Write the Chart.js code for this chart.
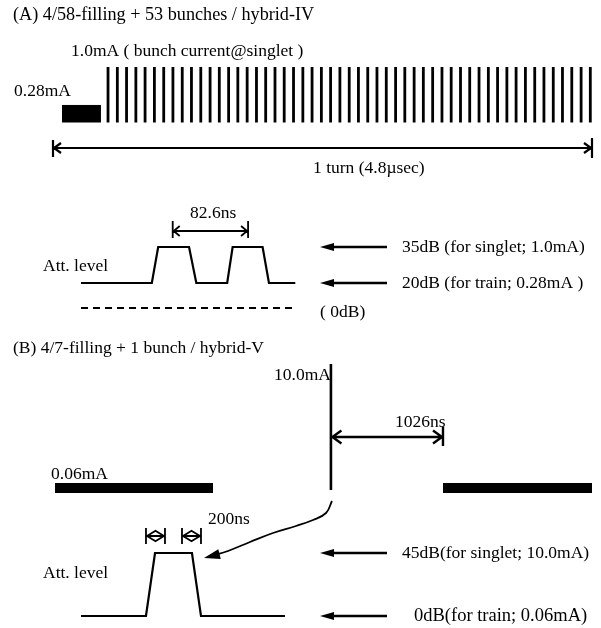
<!DOCTYPE html>
<html>
<head>
<meta charset="utf-8">
<script src="https://cdn.jsdelivr.net/npm/chart.js@4.4.1/dist/chart.umd.min.js"></script>
<style>
  html, body { margin: 0; padding: 0; background: #fff; }
  canvas { display: block; }
</style>
</head>
<body>
<canvas id="diagram" width="601" height="628"></canvas>
<script>
// ---- data: times in ns, currents in mA, attenuation in dB ----

// (A) 4/58-filling + 53 bunches / hybrid-IV
const turnNs = 4800;
const trainA = [80, 427];
const trainCurrentA = 0.28;
const singletCurrentA = 1.0;
const singletTimesA = [
  490, 573, 655, 738, 820, 903, 986, 1068, 1151, 1233,
  1316, 1399, 1481, 1564, 1646, 1729, 1812, 1894, 1977, 2059,
  2142, 2225, 2307, 2390, 2472, 2555, 2638, 2720, 2803, 2885,
  2968, 3051, 3133, 3216, 3298, 3381, 3464, 3546, 3629, 3711,
  3794, 3877, 3959, 4042, 4124, 4207, 4290, 4372, 4455, 4537,
  4620, 4703, 4785
];
const attTimesA = [0, 78, 85, 119, 127, 161, 167, 200, 207, 236];
const attLevelsA = [20, 20, 35, 35, 20, 20, 35, 35, 20, 20];
const attMarksA = [35, 20];
const spacingMarkA = [101, 184];   // 82.6 ns between singlets

// (B) 4/7-filling + 1 bunch / hybrid-V
const trainsB = [[18, 1425], [3473, 4800]];
const trainCurrentB = 0.06;
const singletTimeB = 2475;
const singletCurrentB = 10.0;
const attTimesB = [0, 684, 779, 1168, 1263, 2147];
const attLevelsB = [0, 0, 45, 45, 0, 0];
const attMarksB = [45, 0];
const edgeMarksB = [[684, 884], [1063, 1263]];   // 200 ns edges

// ---- layout (diagram units == canvas pixels) ----
const turnX = t => 53 + t * 539 / turnNs;
const curYA = mA => 122.5 - mA * 55.5;
const curYB = mA => 490 - mA * 12.6;
const attXA = t => 81 + t * 0.908;
const attYA = db => 283 - (db - 20) * 2.4;
const attXB = t => 81 + t * 0.095;
const attYB = db => 616 - db * 1.4;
const turnArrowY = 148;
const spacingArrowY = 231;
const refLineYA = 308;
const gapArrowY = 437;
const edgeArrowY = 536;
const trainBarB = [483, 493];
const markShaft = [332, 387];
const curvePts = [
  { x: 332, y: 501 }, { x: 326, y: 513 }, { x: 313, y: 520 }, { x: 296, y: 526 },
  { x: 273, y: 533 }, { x: 250, y: 542 }, { x: 228, y: 551 }, { x: 212, y: 556 }
];

const textLines = [
  { t: '(A) 4/58-filling + 53 bunches / hybrid-IV', x: 13, y: 15, size: 18.2 },
  { t: '1.0mA ( bunch current@singlet )', x: 71, y: 51 },
  { t: '0.28mA', x: 14, y: 91 },
  { t: '1 turn (4.8\u00b5sec)', x: 313, y: 168 },
  { t: '82.6ns', x: 190, y: 213 },
  { t: 'Att. level', x: 43, y: 266 },
  { t: '35dB (for singlet; 1.0mA)', x: 402, y: 247 },
  { t: '20dB (for train; 0.28mA )', x: 402, y: 283 },
  { t: '( 0dB)', x: 320, y: 312 },
  { t: '(B) 4/7-filling + 1 bunch / hybrid-V', x: 13, y: 348 },
  { t: '10.0mA', x: 274, y: 375 },
  { t: '1026ns', x: 395, y: 422 },
  { t: '0.06mA', x: 51, y: 474 },
  { t: '200ns', x: 208, y: 519 },
  { t: 'Att. level', x: 43, y: 573 },
  { t: '45dB(for singlet; 10.0mA)', x: 402, y: 553 },
  { t: '0dB(for train; 0.06mA)', x: 414, y: 616, size: 18.5 }
];

// ---- helpers ----
const gap = () => ({ x: 0, y: null });
function segs(list) {
  const out = [];
  list.forEach(pts => { out.push(...pts, gap()); });
  return out;
}
// open arrow head, tip at (x, y); dir -1 points left, +1 points right
function chevron(x, y, dir, len, half) {
  return [{ x: x - dir * len, y: y - half }, { x: x, y: y }, { x: x - dir * len, y: y + half }];
}
function vtick(x, y0, y1) {
  return [{ x: x, y: y0 }, { x: x, y: y1 }];
}
function path(points, width, extra) {
  return Object.assign({
    data: points, showLine: true, borderColor: '#000', backgroundColor: '#000',
    borderWidth: width, pointRadius: 0, fill: false, tension: 0, spanGaps: false,
    borderCapStyle: 'butt', borderJoinStyle: 'miter'
  }, extra || {});
}

const datasets = [];

// (A) fill pattern
datasets.push(path(segs(singletTimesA.map(t => vtick(turnX(t), curYA(0), curYA(singletCurrentA)))), 2.8));
datasets.push(path([
  { x: turnX(trainA[0]), y: curYA(trainCurrentA) - 1.5 },
  { x: turnX(trainA[1]), y: curYA(trainCurrentA) - 1.5 }
], 1, { fill: { value: curYA(0) } }));
datasets.push(path(segs([
  [{ x: turnX(0), y: turnArrowY }, { x: turnX(turnNs), y: turnArrowY }],
  vtick(turnX(0), turnArrowY - 8, turnArrowY + 9),
  vtick(turnX(turnNs), turnArrowY - 10, turnArrowY + 10),
  chevron(turnX(0) + 1, turnArrowY, -1, 7, 5),
  chevron(turnX(turnNs) - 1, turnArrowY, 1, 7, 5)
]), 2.2));

// (A) attenuation pattern
datasets.push(path(attTimesA.map((t, i) => ({ x: attXA(t), y: attYA(attLevelsA[i]) })), 2.2));
datasets.push(path(segs([
  [{ x: attXA(spacingMarkA[0]), y: spacingArrowY }, { x: attXA(spacingMarkA[1]), y: spacingArrowY }],
  vtick(attXA(spacingMarkA[0]), spacingArrowY - 10, spacingArrowY + 7),
  vtick(attXA(spacingMarkA[1]), spacingArrowY - 10, spacingArrowY + 7),
  chevron(attXA(spacingMarkA[0]) + 1, spacingArrowY, -1, 6, 5),
  chevron(attXA(spacingMarkA[1]) - 1, spacingArrowY, 1, 6, 5)
]), 1.8));
datasets.push(path([
  { x: attXA(attTimesA[0]), y: refLineYA },
  { x: attXA(attTimesA[attTimesA.length - 1]), y: refLineYA }
], 2, { borderDash: [7, 5] }));
datasets.push(path(segs(attMarksA.map(db => [{ x: markShaft[0], y: attYA(db) }, { x: markShaft[1], y: attYA(db) }])), 2.4));

// (B) fill pattern
trainsB.forEach(span => {
  datasets.push(path([
    { x: turnX(span[0]), y: trainBarB[0] },
    { x: turnX(span[1]), y: trainBarB[0] }
  ], 0, { fill: { value: trainBarB[1] } }));
});
datasets.push(path(vtick(turnX(singletTimeB), curYB(0), curYB(singletCurrentB)), 2.6));
datasets.push(path(segs([
  [{ x: turnX(singletTimeB), y: gapArrowY }, { x: turnX(trainsB[1][0]), y: gapArrowY }],
  vtick(turnX(trainsB[1][0]), gapArrowY - 10, gapArrowY + 9),
  chevron(turnX(singletTimeB) + 1.5, gapArrowY, -1, 9, 6.5),
  chevron(turnX(trainsB[1][0]) - 1, gapArrowY, 1, 9, 6.5)
]), 2.4));
datasets.push(path(curvePts, 1.8, { tension: 0.4 }));

// (B) attenuation pattern
datasets.push(path(attTimesB.map((t, i) => ({ x: attXB(t), y: attYB(attLevelsB[i]) })), 2.2));
datasets.push(path(segs(edgeMarksB.flatMap(m => [
  [{ x: attXB(m[0]), y: edgeArrowY }, { x: attXB(m[1]), y: edgeArrowY }],
  vtick(attXB(m[0]), edgeArrowY - 8, edgeArrowY + 8),
  vtick(attXB(m[1]), edgeArrowY - 8, edgeArrowY + 8),
  chevron(attXB(m[0]) + 1, edgeArrowY, -1, 9, 5.5),
  chevron(attXB(m[1]) - 1, edgeArrowY, 1, 9, 5.5)
])), 1.8));
datasets.push(path(segs(attMarksB.map(db => [{ x: markShaft[0], y: attYB(db) }, { x: markShaft[1], y: attYB(db) }])), 2.4));

// filled arrow heads and the text, drawn through the chart's scales
const annotations = {
  id: 'annotations',
  afterDatasetsDraw(chart) {
    const ctx = chart.ctx;
    const px = v => chart.scales.x.getPixelForValue(v);
    const py = v => chart.scales.y.getPixelForValue(v);

    function head(tipX, tipY, fromX, fromY, len, half) {
      const a = Math.atan2(tipY - fromY, tipX - fromX);
      const bx = tipX - Math.cos(a) * len, by = tipY - Math.sin(a) * len;
      ctx.beginPath();
      ctx.moveTo(px(tipX), py(tipY));
      ctx.lineTo(px(bx - Math.sin(a) * half), py(by + Math.cos(a) * half));
      ctx.lineTo(px(bx + Math.sin(a) * half), py(by - Math.cos(a) * half));
      ctx.closePath();
      ctx.fill();
    }

    ctx.save();
    ctx.fillStyle = '#000';
    attMarksA.forEach(db => head(320, attYA(db), markShaft[1], attYA(db), 14, 4));
    attMarksB.forEach(db => head(320, attYB(db), markShaft[1], attYB(db), 14, 4));
    const last = curvePts[curvePts.length - 1];
    head(204, 558, last.x, last.y, 16, 5);

    ctx.textBaseline = 'middle';
    ctx.textAlign = 'left';
    textLines.forEach(l => {
      ctx.font = (l.size || 17.5) + 'px "Liberation Serif", "Times New Roman", serif';
      ctx.fillText(l.t, px(l.x), py(l.y));
    });
    ctx.restore();
  }
};

new Chart(document.getElementById('diagram'), {
  type: 'scatter',
  data: { datasets: datasets },
  options: {
    responsive: false,
    animation: false,
    events: [],
    layout: { padding: 0 },
    plugins: { legend: { display: false }, tooltip: { enabled: false } },
    scales: {
      x: { type: 'linear', min: 0, max: 601, display: false },
      y: { type: 'linear', min: 0, max: 628, reverse: true, display: false }
    }
  },
  plugins: [annotations]
});
</script>
</body>
</html>
